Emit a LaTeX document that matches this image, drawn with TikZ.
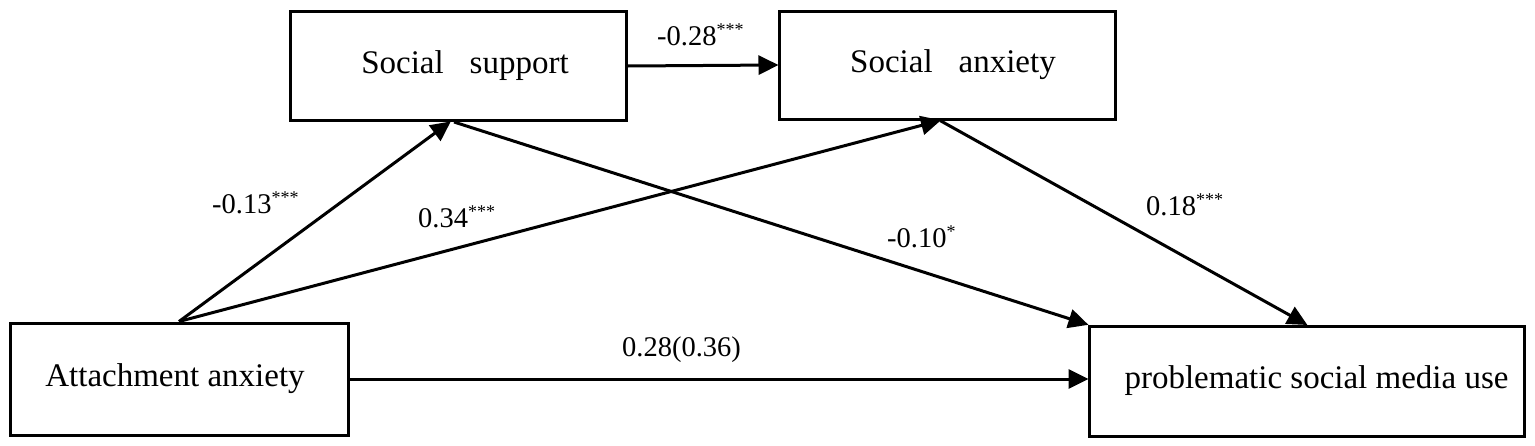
\documentclass[tikz,border=0pt]{standalone}
\usepackage{fontspec}
\setmainfont{Liberation Serif}
\usetikzlibrary{arrows.meta,calc}
\tikzset{
  box/.style={draw, line width=3pt, inner sep=0pt, align=center, font=\fontsize{33}{38}\selectfont},
  conn/.style={line width=3pt, -{Triangle[length=20pt,width=19pt]}, shorten >=-1pt},
  coef/.style={anchor=base west, inner sep=0pt, font=\fontsize{28.5}{32}\selectfont},
}
\newcommand{\sig}[1]{\textsuperscript{\fontsize{18}{19}\selectfont #1}}
\begin{document}
\begin{tikzpicture}[x=1pt,y=-1pt]
\useasboundingbox (0,0) rectangle (1535,445);
\node[box, minimum width=336pt, minimum height=109pt] (ss) at (458,66) {\hspace{14pt}Social\hspace{26pt}support};
\node[box, minimum width=336pt, minimum height=108pt] (sa) at (947,65) {\hspace{12pt}Social\hspace{26pt}anxiety};
\node[box, minimum width=338pt, minimum height=112pt] (aa) at (179,379) {Attachment anxiety\hspace{8pt}};
\node[box, minimum width=435pt, minimum height=110pt] (pu) at (1306.5,381) {\hspace{20pt}problematic social media use};

\draw[conn] (ss.east) -- (sa.west);
\draw[conn] (aa.north) -- ([xshift=-8pt]ss.south);
\draw[conn] (aa.north) -- ([xshift=-7pt]sa.south);
\draw[conn] ([xshift=-4pt]ss.south) -- (pu.north west);
\draw[conn] ([xshift=-7pt]sa.south) -- (pu.north);
\draw[conn] (aa.east) -- (aa.east -| pu.west);

\node[coef] (l1) at (657,45) {-0.28\sig{***}};
\node[coef] (l2) at (212,213) {-0.13\sig{***}};
\node[coef] (l3) at (418,227) {0.34\sig{***}};
\node[coef] (l4) at (887,247) {-0.10\sig{*}};
\node[coef] (l5) at (1146,215) {0.18\sig{***}};
\node[coef] (l6) at (622,356) {0.28(0.36)};
\end{tikzpicture}
\end{document}
